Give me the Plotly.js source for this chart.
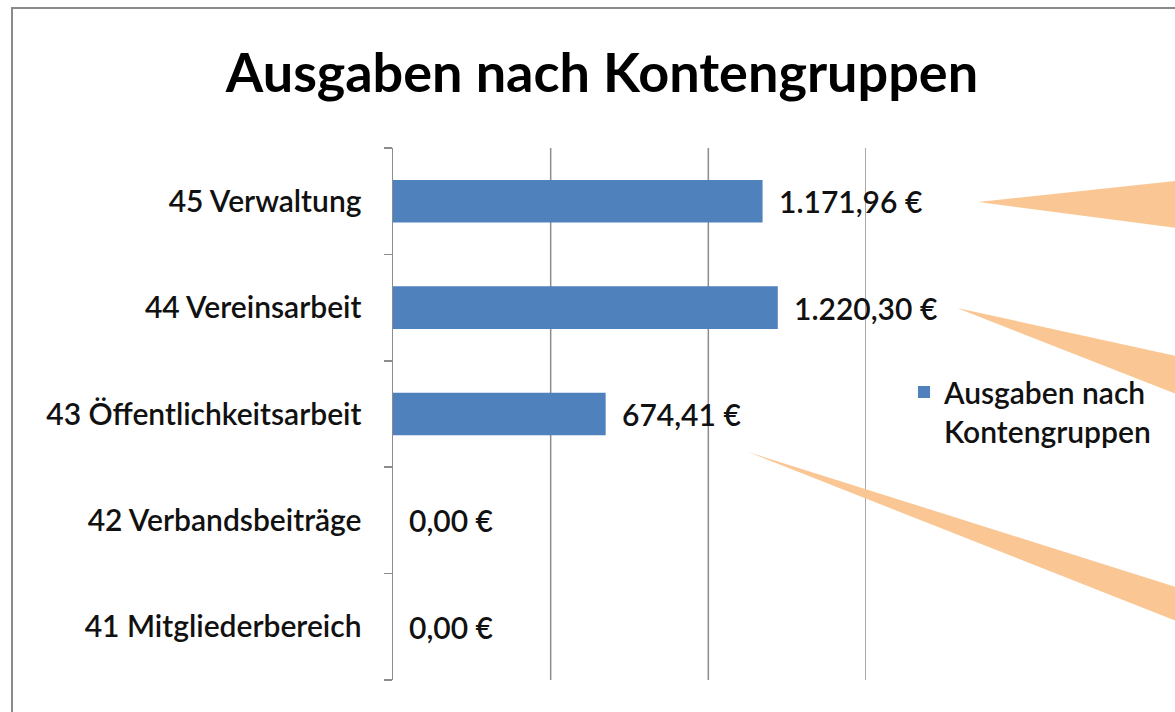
<!DOCTYPE html>
<html>
<head>
<meta charset="utf-8">
<script src="https://cdn.plot.ly/plotly-3.0.1.min.js"></script>
<style>html,body{margin:0;padding:0;background:#fff;}#chart{width:1175px;height:712px;}</style>
</head>
<body>
<div id="chart"></div>
<script>
// ---- data ----
const categories = ['41 Mitgliederbereich', '42 Verbandsbeiträge', '43 Öffentlichkeitsarbeit', '44 Vereinsarbeit', '45 Verwaltung'];
const values = [0, 0, 674.41, 1220.30, 1171.96];
const seriesName = 'Ausgaben nach<br>Kontengruppen';
const chartTitle = 'Ausgaben nach Kontengruppen';
const gridValues = [500, 1000, 1500];

// German currency formatting
function fmtEuro(v) {
  const parts = v.toFixed(2).split('.');
  const intPart = parts[0].replace(/\B(?=(\d{3})+(?!\d))/g, '.');
  return intPart + ',' + parts[1] + ' €';
}

// ---- layout geometry ----
const W = 1175, H = 712;
const L = 393, R = 866, T = 148, B = 680;
const px = x => (x - L) / (R - L);
const py = y => (B - y) / (B - T);

function wedge(tip, p1, p2) {
  return {
    type: 'path', xref: 'paper', yref: 'paper', layer: 'above',
    path: `M ${px(tip[0])} ${py(tip[1])} L ${px(p1[0])} ${py(p1[1])} L ${px(p2[0])} ${py(p2[1])} Z`,
    fillcolor: '#FAC794', line: {width: 0}
  };
}

const FONT = 'Lato, "Open Sans", sans-serif';
const LBL = {family: FONT, size: 30, color: '#111', weight: 600};

const trace = {
  type: 'bar', orientation: 'h',
  y: categories, x: values,
  name: seriesName,
  marker: {color: '#4F81BD'},
  width: 0.4,
  showlegend: true,
  hoverinfo: 'x+y'
};

const annotations = values.map((v, i) => ({
  x: v, y: categories[i], xref: 'x', yref: 'y',
  text: fmtEuro(v), showarrow: false,
  xanchor: 'left', xshift: 14,
  font: LBL
}));

const gridShapes = gridValues.map(g => ({
  type: 'line', xref: 'x', yref: 'paper', layer: 'below',
  x0: g, x1: g, y0: 0, y1: 1,
  line: {color: '#8c8c8c', width: 1.5}
}));

const layout = {
  width: W, height: H,
  margin: {l: L, r: W - R, t: T, b: H - B, pad: 0},
  paper_bgcolor: '#fff', plot_bgcolor: '#fff',
  font: LBL,
  title: {
    text: '<b>' + chartTitle + '</b>',
    font: {family: FONT, size: 54, color: '#000'},
    x: 602 / W, xref: 'container', xanchor: 'center',
    y: 1 - 73 / H, yref: 'container', yanchor: 'middle'
  },
  xaxis: {
    range: [0, 1500],
    showgrid: false,
    zeroline: false, showline: false, showticklabels: false, ticks: ''
  },
  yaxis: {
    type: 'category',
    showline: true, linecolor: '#8c8c8c', linewidth: 1.5,
    ticks: 'outside', tickson: 'boundaries', ticklen: 8, tickcolor: '#8c8c8c', tickwidth: 1.5,
    showgrid: false, zeroline: false,
    ticklabelstandoff: 24,
    tickfont: LBL
  },
  showlegend: true,
  legend: {
    x: px(904), y: py(366), xanchor: 'left', yanchor: 'top',
    xref: 'paper', yref: 'paper',
    valign: 'top',
    bgcolor: 'rgba(0,0,0,0)', borderwidth: 0,
    font: LBL,
    itemwidth: 30
  },
  annotations: annotations,
  shapes: gridShapes.concat([
    // outer chart frame
    {type: 'rect', xref: 'paper', yref: 'paper', layer: 'below',
     x0: px(12), y0: py(740), x1: px(1200), y1: py(8),
     line: {color: '#8a8a8a', width: 2}, fillcolor: 'rgba(0,0,0,0)'},
    wedge([978, 202], [1176, 181], [1176, 228]),
    wedge([957, 308], [1176, 356], [1176, 394]),
    wedge([748, 452], [1176, 587], [1176, 621])
  ]),
  bargap: 0.6
};

Plotly.newPlot('chart', [trace], layout, {displayModeBar: false, staticPlot: true});
</script>
</body>
</html>
